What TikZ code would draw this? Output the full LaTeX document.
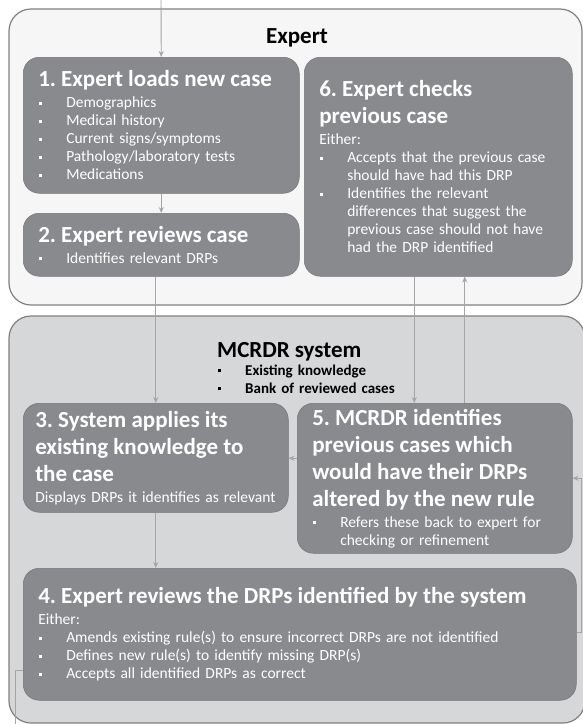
\documentclass[tikz,border=0pt]{standalone}
\usepackage{fontspec}
\setmainfont{Carlito}
\frenchspacing
\usetikzlibrary{arrows.meta,positioning}
\definecolor{stepgray}{RGB}{137,138,142}
\definecolor{expertbg}{RGB}{246,246,246}
\definecolor{systembg}{RGB}{214,215,217}
\definecolor{framegray}{RGB}{128,128,128}
\definecolor{flowgray}{RGB}{165,165,165}
\newcommand{\steptitle}[1]{{\fontsize{23}{27}\selectfont\bfseries #1\par}\vspace{3pt}}
\newcommand{\bulletitem}[1]{\par\hangindent=28pt\hangafter=1\noindent\makebox[28pt][l]{\hspace{1pt}\rule[3pt]{3pt}{3pt}}#1}
\tikzset{
  stepbox/.style={fill=stepgray, draw=stepgray!85!black, line width=0.5pt, rounded corners=16pt,
    text=white, anchor=north west, align=left, inner xsep=15pt, inner ysep=4pt,
    font=\fontsize{15.5}{18}\selectfont},
  area/.style={draw=framegray, line width=1.2pt, rounded corners=22pt},
  flow/.style={draw=flowgray, line width=0.9pt, -{Stealth[length=6pt,width=5pt]}},
  plain/.style={draw=flowgray, line width=0.9pt},
}

\begin{document}
\begin{tikzpicture}[x=1pt, y=-1pt]
  \useasboundingbox (0,0) rectangle (583,724);
  \clip (0,0) rectangle (583,724);
  \draw[area, fill=expertbg] (9,9) rectangle (582,305);
  \draw[area, fill=systembg] (9,316) rectangle (585,723);

  \node[font=\fontsize{23}{27}\selectfont\bfseries] (expertlabel) at (297,38) {Expert};
  \node[anchor=north west, align=left, inner sep=0pt, text width=220pt,
    font=\fontsize{15}{18}\selectfont\bfseries] (systemlabel) at (217,342)
    {{\fontsize{23}{25}\selectfont MCRDR system\par}\bulletitem{Existing knowledge}\bulletitem{Bank of reviewed cases}\par};

  \node[stepbox, text width=246pt, minimum height=136pt] (load) at (23,57)
    {\steptitle{1. Expert loads new case}\bulletitem{Demographics}\bulletitem{Medical history}%
     \bulletitem{Current signs/symptoms}\bulletitem{Pathology/laboratory tests}\bulletitem{Medications}\par};
  \node[stepbox, text width=246pt, minimum height=63pt] (reviewcase) at (23,213)
    {\steptitle{2. Expert reviews case}\bulletitem{Identifies relevant DRPs}\par};
  \node[stepbox, text width=238pt, minimum height=219pt] (check) at (304,57)
    {\steptitle{6. Expert checks\\previous case}Either:%
     \bulletitem{Accepts that the previous case\newline should have had this DRP}%
     \bulletitem{Identifies the relevant\newline differences that suggest the\newline previous case should not have\newline had the DRP identified}\par};
  \node[stepbox, inner xsep=12pt, text width=241pt, minimum height=109pt] (apply) at (23,403)
    {\steptitle{3. System applies its\\existing knowledge to\\the case}Displays DRPs it identifies as relevant\par};
  \node[stepbox, text width=245pt, minimum height=150pt] (identify) at (297,403)
    {\steptitle{5. MCRDR identifies\\previous cases which\\would have their DRPs\\altered by the new rule}%
     \bulletitem{Refers these back to expert for\newline checking or refinement}\par};
  \node[stepbox, text width=523pt, minimum height=132pt] (reviewdrp) at (23,568)
    {\steptitle{4. Expert reviews the DRPs identified by the system}Either:%
     \bulletitem{Amends existing rule(s) to ensure incorrect DRPs are not identified}%
     \bulletitem{Defines new rule(s) to identify missing DRP(s)}%
     \bulletitem{Accepts all identified DRPs as correct}\par};

  \coordinate (entry) at (161,-5);
  \coordinate (exit) at (15,740);
  \draw[flow] (entry) -- (load.north);
  \draw[flow] (load) -- (reviewcase);
  \draw[flow] (apply.north |- reviewcase.south) -- (apply.north);
  \draw[flow] (apply) -- (apply.south |- reviewdrp.north);
  \draw[flow] ([xshift=-24pt]check.south) -- ([xshift=-24pt]check.south |- identify.north);
  \draw[flow] ([xshift=30pt]identify.north) -- ([xshift=30pt]identify.north |- check.south);
  \draw[flow] ([yshift=20pt]identify.west) -- ([yshift=20pt]identify.west -| apply.east);
  \draw[flow] ([yshift=2pt]reviewdrp.east) -- ++(5,0) |- (identify.east);
  \draw[plain] ([yshift=-36pt]reviewdrp.west) -| (exit);
\end{tikzpicture}
\end{document}
